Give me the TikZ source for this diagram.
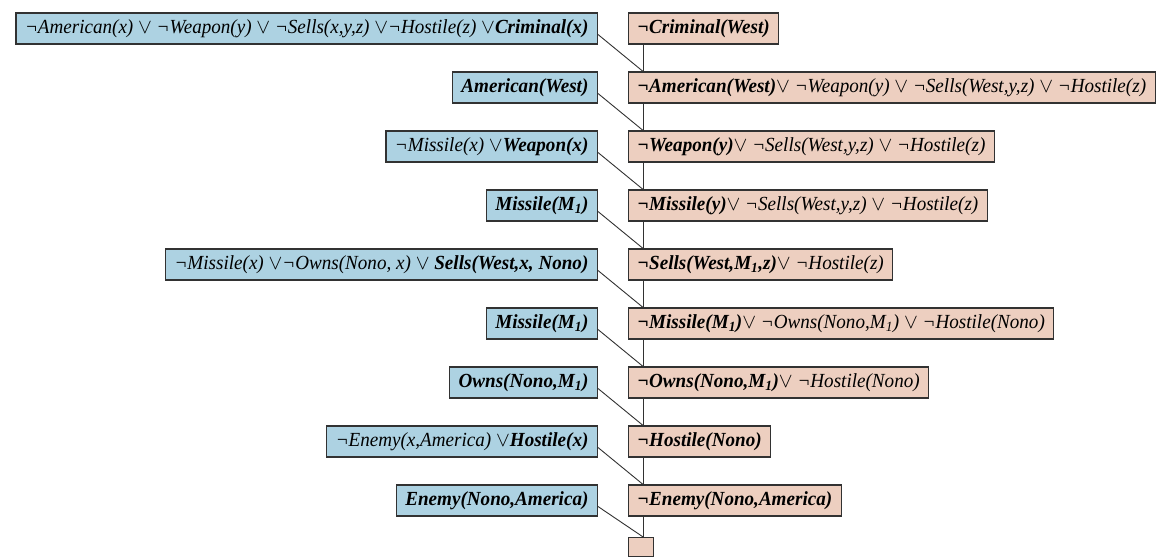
\documentclass[tikz,border=0pt]{standalone}
\usepackage{fontspec}
\setmainfont{Liberation Serif}[FakeStretch=0.955]
\newcommand\myor{$\vee$}
\newcommand\Mone{M\textsubscript{1}}
\definecolor{kbblue}{RGB}{173,210,226}
\definecolor{peach}{RGB}{237,207,192}
\definecolor{edgegray}{RGB}{50,50,50}
\begin{document}
\begin{tikzpicture}[x=1pt,y=-1pt,
  font=\fontsize{20}{24}\selectfont\itshape,
  clause/.style={draw=edgegray, line width=1.2pt, minimum height=31pt,
     inner xsep=9pt, inner ysep=0pt, text height=14pt, text depth=4.5pt},
  kb/.style={clause, fill=kbblue, anchor=east},
  goal/.style={clause, fill=peach, anchor=west},
  link/.style={draw=edgegray, line width=0.9pt}]
\useasboundingbox (0,0) rectangle (1159,557);
% knowledge base clauses (left)
\node[kb] (L1) at (598,28.5) {¬American(x) \myor{} ¬Weapon(y) \myor{} ¬Sells(x,y,z) \myor¬Hostile(z) \myor\textbf{Criminal(x)}};
\node[kb] (L2) at (598,87.5) {\textbf{American(West)}};
\node[kb] (L3) at (598,146.5) {¬Missile(x) \myor\textbf{Weapon(x)}};
\node[kb] (L4) at (598,205.5) {\textbf{Missile(\Mone)}};
\node[kb] (L5) at (598,264.5) {¬Missile(x) \myor¬Owns(Nono, x) \myor{} \textbf{Sells(West,x, Nono)}};
\node[kb] (L6) at (598,323.5) {\textbf{Missile(\Mone)}};
\node[kb] (L7) at (598,382.5) {\textbf{Owns(Nono,\Mone)}};
\node[kb] (L8) at (598,441.5) {¬Enemy(x,America) \myor\textbf{Hostile(x)}};
\node[kb] (L9) at (598,500.5) {\textbf{Enemy(Nono,America)}};
% goal clauses (right)
\node[goal] (R1) at (628,28.5) {\textbf{¬Criminal(West)}};
\node[goal] (R2) at (628,87.5) {\textbf{¬American(West)}\myor{} ¬Weapon(y) \myor{} ¬Sells(West,y,z) \myor{} ¬Hostile(z)};
\node[goal] (R3) at (628,146.5) {\textbf{¬Weapon(y)}\myor{} ¬Sells(West,y,z) \myor{} ¬Hostile(z)};
\node[goal] (R4) at (628,205.5) {\textbf{¬Missile(y)}\myor{} ¬Sells(West,y,z) \myor{} ¬Hostile(z)};
\node[goal] (R5) at (628,264.5) {\textbf{¬Sells(West,\Mone,z)}\myor{} ¬Hostile(z)};
\node[goal] (R6) at (628,323.5) {\textbf{¬Missile(\Mone)}\myor{} ¬Owns(Nono,\Mone) \myor{} ¬Hostile(Nono)};
\node[goal] (R7) at (628,382.5) {\textbf{¬Owns(Nono,\Mone)}\myor{} ¬Hostile(Nono)};
\node[goal] (R8) at (628,441.5) {\textbf{¬Hostile(Nono)}};
\node[goal] (R9) at (628,500.5) {\textbf{¬Enemy(Nono,America)}};
\node[goal, minimum width=25pt, minimum height=19pt, inner sep=0pt, text height=0pt, text depth=0pt] (R10) at (628,547) {};
% connectors
\foreach \i/\j in {1/2,2/3,3/4,4/5,5/6,6/7,7/8,8/9,9/10}{
  \draw[link] ([xshift=15pt]R\i.south west) -- ([xshift=15pt]R\j.north west);
  \draw[link] ([yshift=-6pt]L\i.east) -- ([xshift=15pt]R\j.north west);
}
\end{tikzpicture}
\end{document}
